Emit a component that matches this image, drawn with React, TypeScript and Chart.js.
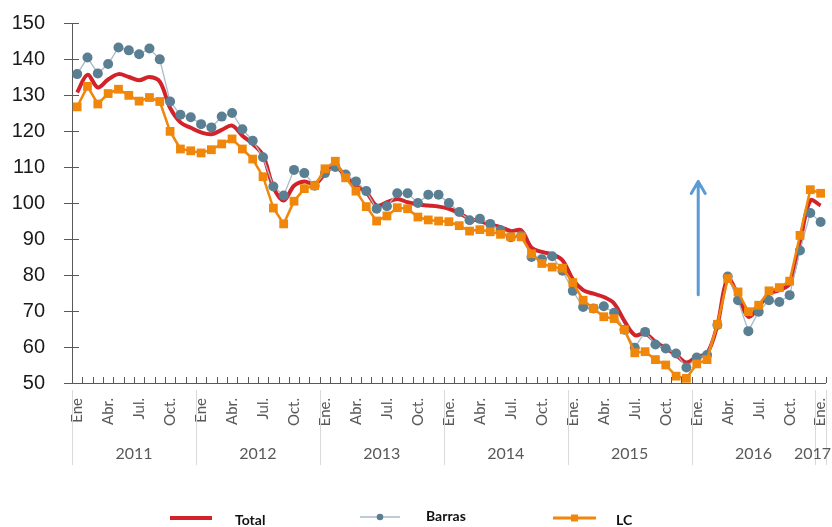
import React, { useEffect, useRef } from 'react';
import { Chart, registerables } from 'chart.js';

Chart.register(...registerables);

// ---------- DATA ----------
const YEARS = ['2011', '2012', '2013', '2014', '2015', '2016', '2017'];
const MONTHS = ['Ene', 'Feb', 'Mar', 'Abr', 'May', 'Jun', 'Jul', 'Ago', 'Sep', 'Oct', 'Nov', 'Dic'];
const JAN_TICKS = ['Ene', 'Ene', 'Ene.', 'Ene.', 'Ene.', 'Ene.', 'Ene.'];
const QUARTER_TICKS: Record<number, string> = { 3: 'Abr.', 6: 'Jul.', 9: 'Oct.' };

const CATEGORIES = YEARS.flatMap((y, k) =>
  (k === YEARS.length - 1 ? MONTHS.slice(0, 1) : MONTHS).map((m) => `${m} ${y}`)
);

const TOTAL = [
  130.7, 135.6, 132.1, 134.3, 135.8, 135.0, 134.1, 135.0, 133.7, 126.4, 122.4, 120.9,
  119.6, 119.1, 120.3, 121.5, 118.7, 116.4, 113.2, 104.4, 100.7, 104.8, 106.0, 105.2,
  108.1, 110.2, 107.3, 104.8, 103.0, 99.3, 100.2, 101.1, 100.2, 99.6, 99.3, 99.0,
  98.4, 97.2, 95.6, 95.0, 94.0, 93.3, 92.2, 92.4, 87.6, 86.4, 85.7, 84.1,
  78.8, 75.8, 74.8, 73.9, 72.1, 67.2, 63.3, 63.8, 61.4, 59.6, 57.8, 55.7,
  57.3, 58.2, 66.1, 79.0, 74.4, 68.4, 71.1, 74.8, 75.8, 77.6, 89.1, 100.7,
  99.3,
];

const BARRAS = [
  135.8, 140.4, 136.0, 138.6, 143.2, 142.4, 141.3, 142.9, 139.9, 128.2, 124.5, 123.8,
  121.9, 121.0, 124.0, 125.0, 120.5, 117.3, 112.7, 104.6, 102.1, 109.2, 108.3, 104.8,
  108.3, 110.0, 107.9, 106.0, 103.3, 98.4, 99.1, 102.7, 102.7, 100.0, 102.3, 102.3,
  100.0, 97.5, 95.2, 95.6, 94.2, 92.4, 90.5, 90.9, 85.0, 84.4, 85.2, 81.2,
  75.6, 71.1, 70.7, 71.3, 69.5, 64.8, 59.8, 64.2, 60.7, 59.6, 58.2, 54.3,
  57.1, 57.8, 66.1, 79.6, 73.0, 64.4, 69.8, 73.0, 72.5, 74.4, 86.8, 97.2,
  94.7,
];

const LC = [
  126.7, 132.4, 127.5, 130.4, 131.6, 129.9, 128.3, 129.3, 128.2, 119.9, 115.0, 114.5,
  113.9, 114.8, 116.4, 117.8, 115.0, 112.2, 107.3, 98.6, 94.2, 100.5, 104.0, 104.8,
  109.5, 111.6, 107.0, 103.3, 99.0, 95.0, 96.4, 98.7, 98.4, 96.1, 95.3, 95.0,
  94.8, 93.7, 92.2, 92.6, 92.0, 91.3, 90.6, 90.6, 85.9, 83.2, 82.2, 81.9,
  77.9, 73.0, 70.7, 68.4, 67.9, 64.8, 58.4, 58.7, 56.5, 55.0, 51.9, 51.3,
  55.3, 56.5, 66.3, 79.0, 75.3, 69.8, 71.6, 75.6, 76.5, 78.3, 91.0, 103.7,
  102.7,
];

const SERIES_NAMES = ['Total', 'Barras', 'LC'];
const ARROW = { index: 60, from: 74.5, to: 106 };

// ---------- STYLE ----------
const RED = '#D3232A';
const GRAY_LINE = '#A8BBC7';
const GRAY_DOT = '#5A7E92';
const ORANGE = '#F0860A';
const AXIS = '#595959';

const decorPlugin = {
  id: 'decor',
  afterDraw(chart: any) {
    const { ctx, chartArea: a, scales } = chart;
    const xs = scales.x;
    const ys = scales.y;
    const n = CATEGORIES.length;
    const w = (a.right - a.left) / n;
    ctx.save();

    // inside tick marks on x axis (category boundaries)
    ctx.strokeStyle = AXIS;
    ctx.lineWidth = 1;
    ctx.beginPath();
    for (let i = 0; i <= n; i++) {
      const x = Math.round(a.left + i * w) + 0.5;
      ctx.moveTo(x, a.bottom);
      ctx.lineTo(x, a.bottom - 6);
    }
    // crossing tick marks on y axis
    ys.ticks.forEach((t: any) => {
      const y = Math.round(ys.getPixelForValue(t.value)) + 0.5;
      ctx.moveTo(a.left - 8, y);
      ctx.lineTo(a.left + 7, y);
    });
    ctx.stroke();

    // year separators and labels
    ctx.strokeStyle = '#D9D9D9';
    ctx.beginPath();
    const bounds: number[] = [];
    YEARS.forEach((_, k) => bounds.push(xs.getPixelForValue(k * 12) - w / 2));
    bounds.push(xs.getPixelForValue(n - 1) + w / 2);
    bounds.forEach((b) => {
      const x = Math.round(b) + 0.5;
      ctx.moveTo(x, 390);
      ctx.lineTo(x, 465);
    });
    ctx.stroke();
    ctx.fillStyle = AXIS;
    ctx.font = '16px Lato, "Open Sans", sans-serif';
    ctx.textAlign = 'center';
    ctx.textBaseline = 'middle';
    YEARS.forEach((y, k) => {
      let cx = (bounds[k] + bounds[k + 1]) / 2;
      const tw = ctx.measureText(y).width;
      cx = Math.min(cx, chart.width - 1 - tw / 2);
      ctx.fillText(y, cx, 454);
    });

    // arrow annotation
    const ax = xs.getPixelForValue(ARROW.index) + 1.5;
    const y0 = ys.getPixelForValue(ARROW.from);
    const y1 = ys.getPixelForValue(ARROW.to);
    ctx.strokeStyle = '#5B9BD5';
    ctx.lineWidth = 3;
    ctx.lineCap = 'round';
    ctx.lineJoin = 'round';
    ctx.beginPath();
    ctx.moveTo(ax, y0);
    ctx.lineTo(ax, y1);
    ctx.moveTo(ax - 7, y1 + 12);
    ctx.lineTo(ax, y1);
    ctx.lineTo(ax + 7, y1 + 12);
    ctx.stroke();

    // legend
    ctx.lineCap = 'butt';
    ctx.font = 'bold 14px Lato, "Open Sans", sans-serif';
    ctx.textAlign = 'left';
    ctx.fillStyle = '#111';
    // Total
    ctx.strokeStyle = RED;
    ctx.lineWidth = 4;
    ctx.beginPath();
    ctx.moveTo(170, 518);
    ctx.lineTo(212, 518);
    ctx.stroke();
    ctx.fillText(SERIES_NAMES[0], 235, 520);
    // Barras
    ctx.strokeStyle = GRAY_LINE;
    ctx.lineWidth = 1.5;
    ctx.beginPath();
    ctx.moveTo(360, 517);
    ctx.lineTo(400, 517);
    ctx.stroke();
    ctx.fillStyle = GRAY_DOT;
    ctx.beginPath();
    ctx.arc(380, 517, 3.3, 0, Math.PI * 2);
    ctx.fill();
    ctx.fillStyle = '#111';
    ctx.fillText(SERIES_NAMES[1], 426, 516);
    // LC
    ctx.strokeStyle = ORANGE;
    ctx.lineWidth = 3;
    ctx.beginPath();
    ctx.moveTo(553, 518);
    ctx.lineTo(596, 518);
    ctx.stroke();
    ctx.fillStyle = ORANGE;
    ctx.fillRect(571, 514.5, 7, 7);
    ctx.fillStyle = '#111';
    ctx.fillText(SERIES_NAMES[2], 616, 520);

    ctx.restore();
  },
};

export default function App() {
  const ref = useRef<HTMLCanvasElement | null>(null);

  useEffect(() => {
    if (!ref.current) return;
    const chart = new Chart(ref.current, {
      type: 'line',
      data: {
        labels: CATEGORIES,
        datasets: [
          {
            label: SERIES_NAMES[0],
            data: TOTAL,
            borderColor: RED,
            backgroundColor: RED,
            borderWidth: 4,
            pointRadius: 0,
            tension: 0.35,
            order: 3,
            clip: false,
          },
          {
            label: SERIES_NAMES[1],
            data: BARRAS,
            borderColor: GRAY_LINE,
            backgroundColor: GRAY_DOT,
            borderWidth: 1.3,
            pointRadius: 5,
            pointBackgroundColor: GRAY_DOT,
            pointBorderColor: GRAY_DOT,
            pointBorderWidth: 0,
            tension: 0,
            order: 2,
            clip: false,
          },
          {
            label: SERIES_NAMES[2],
            data: LC,
            borderColor: ORANGE,
            backgroundColor: ORANGE,
            borderWidth: 2.5,
            pointStyle: 'rect',
            pointRadius: 6.2,
            pointBackgroundColor: ORANGE,
            pointBorderColor: ORANGE,
            pointBorderWidth: 0,
            tension: 0,
            order: 1,
            clip: false,
          },
        ] as any,
      },
      options: {
        animation: false,
        responsive: false,
        events: [],
        layout: { padding: { top: 23, right: 6, left: 0, bottom: 0 } },
        plugins: {
          legend: { display: false },
          tooltip: { enabled: false },
        },
        scales: {
          x: {
            type: 'category',
            offset: true,
            grid: { display: false, drawTicks: false },
            border: { display: true, color: AXIS, width: 1 },
            ticks: {
              autoSkip: false,
              maxRotation: 90,
              minRotation: 90,
              padding: 15,
              color: AXIS,
              font: { family: 'Lato, "Open Sans", sans-serif', size: 15 },
              callback: (_v: any, index: number) => {
                const m = index % 12;
                const y = Math.floor(index / 12);
                if (m === 0) return JAN_TICKS[y];
                return QUARTER_TICKS[m] ?? '';
              },
            },
            afterFit: (s: any) => {
              s.height = 144;
              s.paddingLeft = 0;
              s.paddingRight = 0;
            },
          },
          y: {
            min: 50,
            max: 150,
            ticks: {
              stepSize: 10,
              padding: 19,
              color: '#1a1a1a',
              font: { family: '"Liberation Sans", Arial, sans-serif', size: 20 },
            },
            grid: { drawOnChartArea: false, drawTicks: true, tickLength: 8, color: 'rgba(0,0,0,0)' },
            border: { display: true, color: AXIS, width: 1 },
            afterFit: (s: any) => {
              s.width = 72;
              s.paddingTop = 0;
              s.paddingBottom = 0;
            },
          },
        },
      } as any,
      plugins: [decorPlugin],
    });
    return () => chart.destroy();
  }, []);

  return (
    <div style={{ position: 'fixed', left: 0, top: 0, width: 832, height: 527, background: '#fff' }}>
      <canvas ref={ref} width={832} height={527} style={{ display: 'block', width: 832, height: 527 }} />
    </div>
  );
}
